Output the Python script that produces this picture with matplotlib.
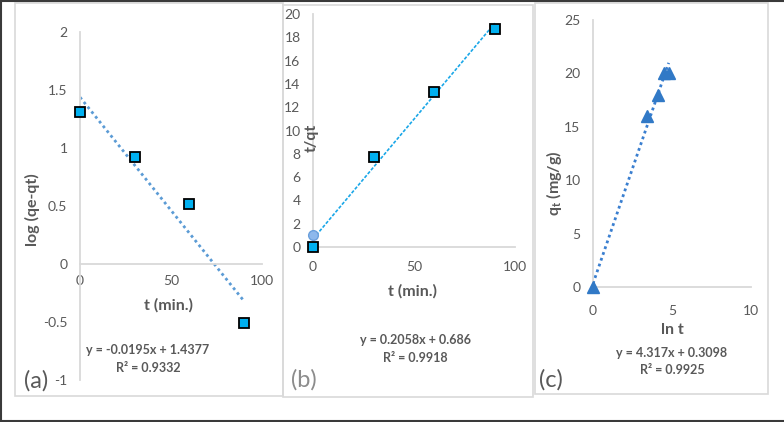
import matplotlib
matplotlib.use("Agg")
import matplotlib.pyplot as plt
import numpy as np
from matplotlib.lines import Line2D
from matplotlib.patches import Rectangle

plt.rcParams['font.family'] = ['Lato', 'DejaVu Sans']
plt.rcParams['mathtext.fontset'] = 'custom'
plt.rcParams['mathtext.rm'] = 'Lato'
plt.rcParams['mathtext.bf'] = 'Lato:bold'

# ---- data ----
# (a) pseudo-first-order
a_t = [0, 30, 60, 90]
a_logq = [1.31, 0.92, 0.52, -0.51]
a_slope, a_intercept = -0.0195, 1.4377
a_eq = "y = -0.0195x + 1.4377"
a_r2 = "R² = 0.9332"

# (b) pseudo-second-order
b_t = [0, 30, 60, 90]
b_tq = [0.0, 7.74, 13.3, 18.7]
b_circle_t = [0]
b_circle_tq = [1.0]
b_slope, b_intercept = 0.2058, 0.686
b_eq = "y = 0.2058x + 0.686"
b_r2 = "R² = 0.9918"

# (c) Elovich / intraparticle
c_lnt = [0, 3.40, 4.09, 4.50, 4.79]
c_qt = [0, 16, 18, 20, 20]
c_slope, c_intercept = 4.317, 0.3098
c_eq = "y = 4.317x + 0.3098"
c_r2 = "R² = 0.9925"

W, H = 784, 422
fig = plt.figure(figsize=(W / 100, H / 100), dpi=100)

GRAY = '#595959'
AX = '#d9d9d9'


def px_axes(x0, y0, x1, y1):
    return fig.add_axes([x0 / W, 1 - y1 / H, (x1 - x0) / W, (y1 - y0) / H])


def ftext(x, y, s, **kw):
    fig.text(x / W, 1 - y / H, s, **kw)


def style(ax, xlim, ylim, xticks, yticks, xpad, ypad):
    ax.set_xlim(*xlim)
    ax.set_ylim(*ylim)
    for s in ['top', 'right']:
        ax.spines[s].set_visible(False)
    ax.spines['bottom'].set_position(('data', 0))
    for s in ['left', 'bottom']:
        ax.spines[s].set_color(AX)
        ax.spines[s].set_linewidth(1.3)
    ax.set_xticks(xticks)
    ax.set_yticks(yticks)
    ax.tick_params(axis='both', length=0, labelsize=10, labelcolor=GRAY)
    ax.tick_params(axis='x', pad=xpad)
    ax.tick_params(axis='y', pad=ypad)
    ax.patch.set_visible(False)


# panel boxes
for (x0, y0, x1, y1) in [(15, 3, 283, 396), (283, 5, 533, 397), (535, 3, 768, 394)]:
    fig.add_artist(Rectangle((x0 / W, 1 - y1 / H), (x1 - x0) / W, (y1 - y0) / H,
                             transform=fig.transFigure, fill=False,
                             edgecolor='#d9d9d9', linewidth=1.2))

# outer dark frame (top, left, bottom)
for xs, ys in [([0, 1], [1 - 1 / H, 1 - 1 / H]), ([1 / W, 1 / W], [0, 1]),
               ([0, 1], [1 / H, 1 / H])]:
    fig.add_artist(Line2D(xs, ys, transform=fig.transFigure, color='#3a3a3a', linewidth=1.5))

# ---- (a) ----
axa = px_axes(80, 32, 262, 380)
style(axa, (0, 100), (-1, 2), [0, 50, 100], [-1, -0.5, 0, 0.5, 1, 1.5, 2], 8, 9)
axa.set_yticklabels(['-1', '-0.5', '0', '0.5', '1', '1.5', '2'])
xa = np.array([min(a_t), max(a_t)])
axa.plot(xa, a_slope * xa + a_intercept, linestyle=(0, (1, 1.2)), color='#5b9bd5', linewidth=2)
axa.plot(a_t, a_logq, 's', markersize=6.5, markerfacecolor='#00b0f0',
         markeredgecolor='black', markeredgewidth=1.3, clip_on=False, zorder=5)
ftext(168, 305, 't (min.)', ha='center', va='center', fontsize=11.5, fontweight='bold', color=GRAY)
ftext(32, 210, 'log (qe-qt)', ha='center', va='center', fontsize=11.5, fontweight='bold',
      color=GRAY, rotation=90)
ftext(148, 350, a_eq, ha='center', va='center', fontsize=9, fontweight='bold', color=GRAY)
ftext(148, 368, a_r2, ha='center', va='center', fontsize=9, fontweight='bold', color=GRAY)
ftext(24, 381, '(a)', ha='left', va='center', fontsize=17, color=GRAY)

# ---- (b) ----
axb = px_axes(313, 14, 515, 247)
style(axb, (0, 100), (0, 20), [0, 50, 100], list(range(0, 21, 2)), 10, 9)
xb = np.array([min(b_t), max(b_t)])
axb.plot(xb, b_slope * xb + b_intercept, linestyle=(0, (2, 1)), color='#1aa7e8', linewidth=1.2)
axb.plot(b_circle_t, b_circle_tq, 'o', markersize=7, markerfacecolor='#8db8ec',
         markeredgecolor='#6a9fdc', markeredgewidth=1, clip_on=False, zorder=4)
axb.plot(b_t, b_tq, 's', markersize=6.5, markerfacecolor='#00b0f0',
         markeredgecolor='black', markeredgewidth=1.3, clip_on=False, zorder=5)
ftext(413, 291, 't (min.)', ha='center', va='center', fontsize=11.5, fontweight='bold', color=GRAY)
ftext(312, 138, 't/qt', ha='center', va='center', fontsize=11.5, fontweight='bold',
      color=GRAY, rotation=90)
ftext(415, 340, b_eq, ha='center', va='center', fontsize=9, fontweight='bold', color=GRAY)
ftext(415, 358, b_r2, ha='center', va='center', fontsize=9, fontweight='bold', color=GRAY)
ftext(291, 380, '(b)', ha='left', va='center', fontsize=17, color='#8c8c8c')

# ---- (c) ----
axc = px_axes(593, 20, 751, 287)
style(axc, (0, 10), (0, 25), [0, 5, 10], [0, 5, 10, 15, 20, 25], 13, 9)
xc = np.array([min(c_lnt), max(c_lnt)])
axc.plot(xc, c_slope * xc + c_intercept, linestyle=(0, (1, 1.2)), color='#3a7fd0', linewidth=2)
axc.plot(c_lnt, c_qt, '^', markersize=8, markerfacecolor='#3179c6',
         markeredgecolor='#3179c6', clip_on=False, zorder=5)
ftext(672, 330, 'ln t', ha='center', va='center', fontsize=11.5, fontweight='bold', color=GRAY)
ftext(554, 183, r'q$_{\mathbf{t}}$ (mg/g)', ha='center', va='center', fontsize=11.5,
      fontweight='bold', color=GRAY, rotation=90)
ftext(672, 353, c_eq, ha='center', va='center', fontsize=9, fontweight='bold', color=GRAY)
ftext(672, 370, c_r2, ha='center', va='center', fontsize=9, fontweight='bold', color=GRAY)
ftext(539, 380, '(c)', ha='left', va='center', fontsize=17, color=GRAY)

fig.savefig('out.png', dpi=100)
